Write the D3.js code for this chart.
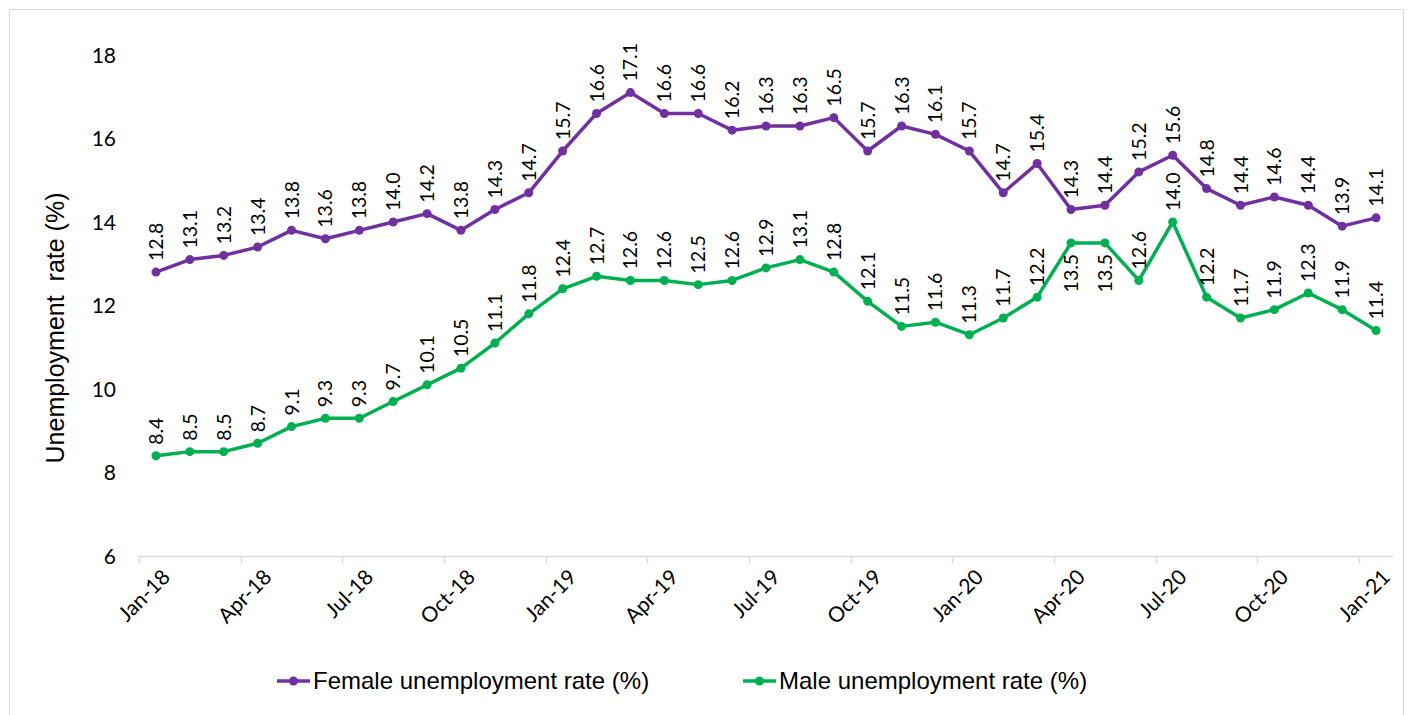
<!DOCTYPE html>
<html>
<head>
<meta charset="utf-8">
<script src="https://cdn.jsdelivr.net/npm/d3@7"></script>
<style>
  html, body { margin: 0; padding: 0; background: #fff; }
  svg { display: block; }
</style>
</head>
<body>
<svg id="chart" width="1408" height="715"></svg>
<script>
// Monthly unemployment rates, Jan 2018 – Jan 2021
const months = [
  "Jan-18","Feb-18","Mar-18","Apr-18","May-18","Jun-18","Jul-18","Aug-18","Sep-18","Oct-18","Nov-18","Dec-18",
  "Jan-19","Feb-19","Mar-19","Apr-19","May-19","Jun-19","Jul-19","Aug-19","Sep-19","Oct-19","Nov-19","Dec-19",
  "Jan-20","Feb-20","Mar-20","Apr-20","May-20","Jun-20","Jul-20","Aug-20","Sep-20","Oct-20","Nov-20","Dec-20",
  "Jan-21"
];
const femaleRate = [
  12.8, 13.1, 13.2, 13.4, 13.8, 13.6, 13.8, 14.0, 14.2, 13.8, 14.3, 14.7,
  15.7, 16.6, 17.1, 16.6, 16.6, 16.2, 16.3, 16.3, 16.5, 15.7, 16.3, 16.1,
  15.7, 14.7, 15.4, 14.3, 14.4, 15.2, 15.6, 14.8, 14.4, 14.6, 14.4, 13.9,
  14.1
];
const maleRate = [
  8.4, 8.5, 8.5, 8.7, 9.1, 9.3, 9.3, 9.7, 10.1, 10.5, 11.1, 11.8,
  12.4, 12.7, 12.6, 12.6, 12.5, 12.6, 12.9, 13.1, 12.8, 12.1, 11.5, 11.6,
  11.3, 11.7, 12.2, 13.5, 13.5, 12.6, 14.0, 12.2, 11.7, 11.9, 12.3, 11.9,
  11.4
];
// Male labels that sit below their point instead of above
const maleLabelsBelow = ["Apr-20", "May-20"];
const yTicks = [6, 8, 10, 12, 14, 16, 18];
const xTickLabels = months.filter((m, i) => i % 3 === 0);

const series = [
  { name: "Female unemployment rate (%)", values: femaleRate, color: "#7030A0", below: [] },
  { name: "Male unemployment rate (%)", values: maleRate, color: "#00B050", below: maleLabelsBelow }
];

const svg = d3.select("#chart");

// outer chart frame
svg.append("rect")
  .attr("x", 9.5).attr("y", 9.5)
  .attr("width", 1394).attr("height", 720)
  .attr("fill", "none").attr("stroke", "#d9d9d9").attr("stroke-width", 1);

const plot = { left: 139, right: 1393, top: 55, bottom: 556 };

const x = d3.scaleBand().domain(months).range([plot.left, plot.right]).padding(0);
const y = d3.scaleLinear().domain([6, 18]).range([plot.bottom, plot.top]);
const cx = m => x(m) + x.bandwidth() / 2;

// y axis tick labels (no axis line)
svg.append("g")
  .selectAll("text")
  .data(yTicks)
  .join("text")
  .attr("x", 116)
  .attr("y", d => y(d))
  .attr("dy", "0.36em")
  .attr("text-anchor", "end")
  .attr("font-family", "Lato, 'Open Sans', sans-serif")
  .attr("font-size", 21)
  .attr("fill", "#000")
  .text(d => d);

// x axis line and tick marks at every third month boundary
const xAxis = svg.append("g");
xAxis.append("line")
  .attr("x1", plot.left).attr("x2", plot.right)
  .attr("y1", plot.bottom + 0.5).attr("y2", plot.bottom + 0.5)
  .attr("stroke", "#d9d9d9").attr("stroke-width", 1.5);
xAxis.selectAll("line.tick")
  .data(xTickLabels)
  .join("line")
  .attr("class", "tick")
  .attr("x1", d => Math.round(x(d)) + 0.5).attr("x2", d => Math.round(x(d)) + 0.5)
  .attr("y1", plot.bottom).attr("y2", plot.bottom + 7)
  .attr("stroke", "#d9d9d9").attr("stroke-width", 1.5);
xAxis.selectAll("text")
  .data(xTickLabels)
  .join("text")
  .attr("transform", d => `translate(${cx(d) + 10},${plot.bottom + 17}) rotate(-45)`)
  .attr("text-anchor", "end")
  .attr("dy", "0.36em")
  .attr("font-family", "Lato, 'Open Sans', sans-serif")
  .attr("font-size", 21)
  .attr("fill", "#000")
  .text(d => d);

// y axis title
svg.append("text")
  .attr("transform", "translate(64,328) rotate(-90)")
  .attr("text-anchor", "middle")
  .attr("font-family", "'Liberation Sans', Arial, sans-serif")
  .attr("font-size", 25)
  .attr("fill", "#000")
  .style("white-space", "pre")
  .text("Unemployment  rate (%)");

const line = d3.line()
  .x((d, i) => cx(months[i]))
  .y(d => y(d));

series.forEach(s => {
  const g = svg.append("g");
  g.append("path")
    .datum(s.values)
    .attr("d", line)
    .attr("fill", "none")
    .attr("stroke", s.color)
    .attr("stroke-width", 3.5)
    .attr("stroke-linejoin", "round");
  g.selectAll("circle")
    .data(s.values)
    .join("circle")
    .attr("cx", (d, i) => cx(months[i]))
    .attr("cy", d => y(d))
    .attr("r", 4.5)
    .attr("fill", s.color);
  g.selectAll("text")
    .data(s.values)
    .join("text")
    .attr("transform", (d, i) => {
      const below = s.below.includes(months[i]);
      const ty = below ? y(d) + 11 : y(d) - 11;
      return `translate(${cx(months[i])},${ty}) rotate(-90)`;
    })
    .attr("text-anchor", (d, i) => s.below.includes(months[i]) ? "end" : "start")
    .attr("dy", "0.36em")
    .attr("font-family", "Lato, 'Open Sans', sans-serif")
    .attr("font-size", 19.5)
    .attr("fill", "#000")
    .text(d => d.toFixed(1));
});

// legend
const legendItems = [
  { s: series[0], x0: 277 },
  { s: series[1], x0: 743 }
];
legendItems.forEach(({ s, x0 }) => {
  const g = svg.append("g").attr("transform", `translate(${x0},681)`);
  g.append("line")
    .attr("x1", 0).attr("x2", 33).attr("y1", 0).attr("y2", 0)
    .attr("stroke", s.color).attr("stroke-width", 3.5);
  g.append("circle").attr("cx", 16.5).attr("cy", 0).attr("r", 4.5).attr("fill", s.color);
  g.append("text")
    .attr("x", 36)
    .attr("y", 0)
    .attr("dy", "0.35em")
    .attr("font-family", "'Liberation Sans', Arial, sans-serif")
    .attr("font-size", 24)
    .attr("fill", "#000")
    .text(s.name);
});
</script>
</body>
</html>
